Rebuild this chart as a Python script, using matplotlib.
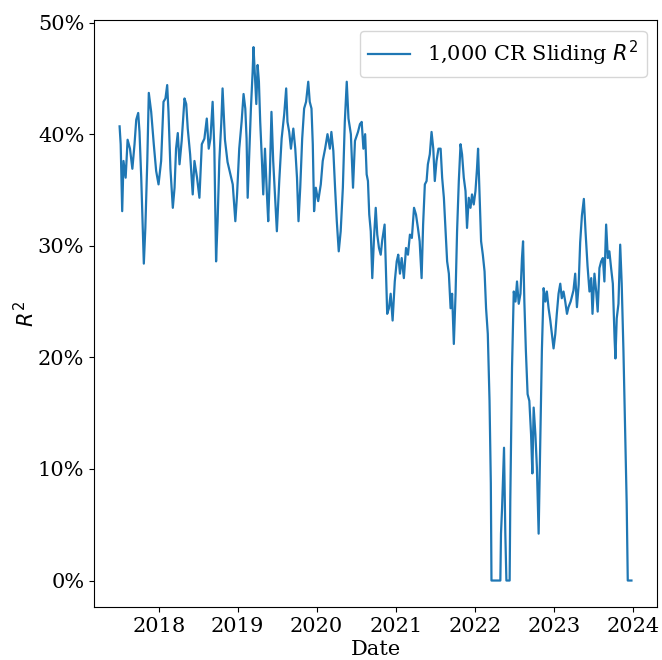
import matplotlib
matplotlib.use("Agg")
import matplotlib.pyplot as plt
import matplotlib.dates as mdates
from matplotlib.ticker import PercentFormatter, MultipleLocator
import pandas as pd

# sliding-window R^2 of the 1,000 CR portfolio
start_date = "2017-07-04"

day_offsets = [
    0, 5, 12, 18, 28, 37, 48, 59, 69, 77, 86, 92, 100, 112, 119, 128, 135, 146, 158, 169,
    180, 192, 203, 212, 220, 226, 235, 246, 254, 261, 269, 277, 287, 300, 308, 315, 326, 338, 346, 358,
    369, 380, 392, 403, 412, 420, 430, 438, 446, 453, 461, 470, 476, 487, 499, 512, 523, 535, 543, 553,
    564, 573, 581, 587, 592, 600, 607, 615, 619, 626, 632, 638, 644, 650, 658, 664, 672, 681, 687, 695,
    702, 710, 718, 727, 738, 749, 761, 770, 776, 784, 792, 803, 812, 820, 827, 835, 844, 853, 862, 872,
    879, 887, 893, 899, 907, 918, 930, 939, 950, 961, 972, 979, 988, 996, 1004, 1013, 1022, 1032, 1041, 1050,
    1058, 1069, 1079, 1088, 1102, 1111, 1119, 1127, 1135, 1142, 1148, 1154, 1161, 1168, 1176, 1184, 1191, 1199, 1207, 1214,
    1225, 1231, 1237, 1245, 1253, 1262, 1272, 1281, 1288, 1296, 1304, 1314, 1324, 1333, 1342, 1351, 1361, 1370, 1379, 1387,
    1396, 1403, 1411, 1419, 1425, 1434, 1442, 1450, 1457, 1465, 1474, 1484, 1491, 1499, 1507, 1514, 1522, 1530, 1537, 1545,
    1553, 1560, 1568, 1576, 1583, 1591, 1599, 1606, 1614, 1622, 1629, 1637, 1645, 1652, 1657, 1664, 1671, 1679, 1687, 1694,
    1702, 1710, 1716, 1719, 1760, 1763, 1768, 1777, 1783, 1788, 1803, 1806, 1814, 1822, 1830, 1837, 1845, 1853, 1860, 1865,
    1871, 1878, 1886, 1894, 1902, 1908, 1914, 1922, 1929, 1937, 1945, 1952, 1960, 1968, 1975, 1983, 1991, 1998, 2006, 2014,
    2021, 2029, 2037, 2044, 2052, 2060, 2068, 2075, 2085, 2098, 2106, 2114, 2122, 2129, 2137, 2146, 2154, 2163, 2172, 2180,
    2186, 2195, 2203, 2210, 2218, 2226, 2234, 2241, 2249, 2257, 2264, 2272, 2280, 2288, 2292, 2298, 2306, 2314, 2321, 2329,
    2337, 2344, 2349, 2366,
]

r2_values = [
    0.407, 0.391, 0.331, 0.376, 0.361, 0.395, 0.387, 0.369, 0.391, 0.413, 0.419, 0.402, 0.361, 0.284, 0.316, 0.376, 0.437, 0.420, 0.391, 0.367,
    0.355, 0.376, 0.429, 0.432, 0.444, 0.420, 0.369, 0.334, 0.352, 0.387, 0.401, 0.373, 0.394, 0.432, 0.427, 0.405, 0.382, 0.346, 0.376, 0.361,
    0.343, 0.391, 0.396, 0.414, 0.387, 0.396, 0.429, 0.387, 0.286, 0.322, 0.376, 0.410, 0.441, 0.395, 0.375, 0.364, 0.355, 0.322, 0.346, 0.387,
    0.411, 0.436, 0.423, 0.396, 0.343, 0.387, 0.423, 0.456, 0.478, 0.450, 0.427, 0.462, 0.447, 0.411, 0.376, 0.346, 0.387, 0.346, 0.322, 0.367,
    0.420, 0.376, 0.346, 0.313, 0.358, 0.396, 0.418, 0.441, 0.411, 0.402, 0.387, 0.405, 0.387, 0.361, 0.322, 0.352, 0.396, 0.423, 0.429, 0.447,
    0.429, 0.423, 0.391, 0.331, 0.352, 0.340, 0.355, 0.376, 0.387, 0.400, 0.387, 0.402, 0.385, 0.352, 0.322, 0.295, 0.313, 0.352, 0.411, 0.447,
    0.414, 0.400, 0.352, 0.394, 0.402, 0.409, 0.411, 0.387, 0.400, 0.364, 0.358, 0.328, 0.313, 0.271, 0.307, 0.334, 0.310, 0.298, 0.292, 0.305,
    0.319, 0.280, 0.239, 0.244, 0.257, 0.233, 0.268, 0.286, 0.292, 0.275, 0.289, 0.271, 0.298, 0.292, 0.310, 0.307, 0.334, 0.328, 0.316, 0.304,
    0.271, 0.319, 0.355, 0.358, 0.373, 0.382, 0.402, 0.387, 0.358, 0.376, 0.387, 0.387, 0.361, 0.343, 0.313, 0.286, 0.275, 0.244, 0.257, 0.212,
    0.257, 0.313, 0.358, 0.391, 0.382, 0.361, 0.349, 0.316, 0.343, 0.334, 0.346, 0.337, 0.349, 0.369, 0.387, 0.345, 0.304, 0.292, 0.277, 0.244,
    0.221, 0.161, 0.087, 0.0, 0.0, 0.042, 0.065, 0.119, 0.042, 0.0, 0.0, 0.072, 0.191, 0.259, 0.250, 0.268, 0.248, 0.257, 0.289, 0.304,
    0.250, 0.206, 0.167, 0.161, 0.131, 0.096, 0.155, 0.131, 0.101, 0.042, 0.131, 0.206, 0.262, 0.250, 0.259, 0.244, 0.233, 0.221, 0.208, 0.221,
    0.239, 0.257, 0.266, 0.253, 0.259, 0.250, 0.239, 0.245, 0.250, 0.260, 0.275, 0.245, 0.265, 0.303, 0.327, 0.342, 0.312, 0.282, 0.259, 0.271,
    0.239, 0.275, 0.259, 0.241, 0.280, 0.286, 0.289, 0.268, 0.319, 0.289, 0.295, 0.280, 0.266, 0.217, 0.199, 0.235, 0.248, 0.301, 0.266, 0.206,
    0.131, 0.069, 0.0, 0.0,
]

plt.rcParams["font.family"] = "serif"
plt.rcParams["font.size"] = 15

dates = pd.Timestamp(start_date) + pd.to_timedelta(day_offsets, unit="D")

fig = plt.figure(figsize=(6.62, 6.6), dpi=100)
ax = fig.add_axes([0.142, 0.080, 0.8505, 0.889])

ax.plot(dates, r2_values, color="#1f77b4", linewidth=1.6, label="1,000 CR Sliding $R^2$")

ax.yaxis.set_major_locator(MultipleLocator(0.1))
ax.yaxis.set_major_formatter(PercentFormatter(1.0, decimals=0))
ax.xaxis.set_major_locator(mdates.YearLocator())
ax.xaxis.set_major_formatter(mdates.DateFormatter("%Y"))

ax.set_xlabel("Date", labelpad=3)
ax.set_ylabel("$R^2$", labelpad=0)
ax.legend(loc="upper right")

fig.savefig("out.png", dpi=100)
